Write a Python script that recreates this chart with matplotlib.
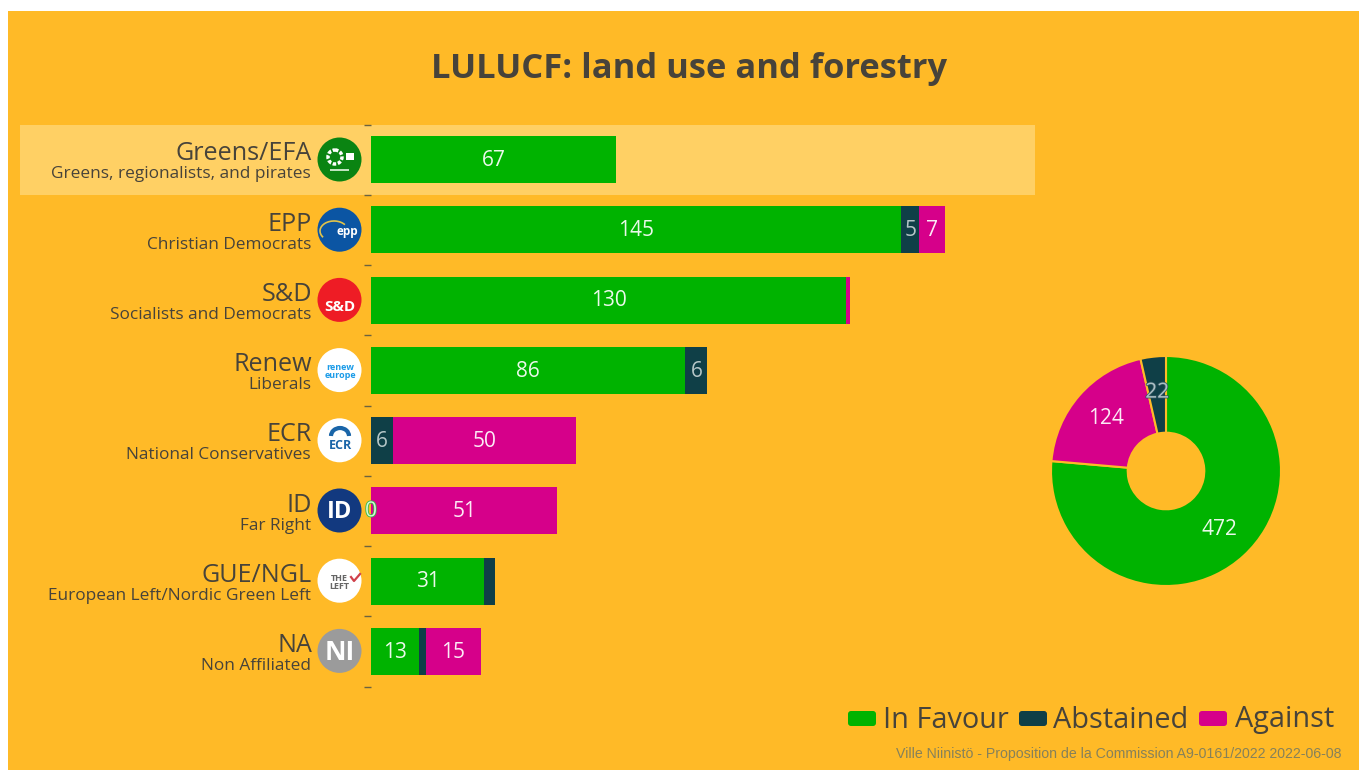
import matplotlib
matplotlib.use('Agg')
import numpy as np
import matplotlib.pyplot as plt
import matplotlib.patheffects as pe
from matplotlib.patches import Arc, Circle, FancyBboxPatch, Rectangle

W, H = 1359, 770
groups = ['Greens/EFA', 'EPP', 'S&D', 'Renew', 'ECR', 'ID', 'GUE/NGL', 'NA']
subtitles = ['Greens, regionalists, and pirates', 'Christian Democrats', 'Socialists and Democrats',
             'Liberals', 'National Conservatives', 'Far Right',
             'European Left/Nordic Green Left', 'Non Affiliated']
in_favour = [67, 145, 130, 86, 0, 0, 31, 13]
abstained = [0, 5, 0, 6, 6, 0, 3, 2]
against = [0, 7, 1, 0, 50, 51, 0, 15]
totals = [472, 124, 22]
legend_names = ['In Favour', 'Abstained', 'Against']
title = 'LULUCF: land use and forestry'
credit = 'Ville Niinistö - Proposition de la Commission A9-0161/2022 2022-06-08'
logo_colors = ['#0a8412', '#0b55a3', '#ee1c25', '#ffffff', '#ffffff', '#12397f', '#ffffff', '#9b9b9b']
logo_texts = ['', 'epp', 'S&D', 'renew\neurope', 'ECR', 'ID', 'THE\nLEFT', 'NI']
logo_text_colors = ['white', 'white', 'white', '#1a9be8', '#1a65a8', 'white', '#666666', 'white']

GREEN = '#00b300'
DARK = '#0f3f47'
PINK = '#d6008a'
BG = '#ffba27'
INK = '#47433a'

plt.rcParams['font.family'] = ['Open Sans', 'DejaVu Sans']
fig = plt.figure(figsize=(W / 100, H / 100), dpi=100, facecolor='white')


def box(x0, y0, x1, y1):
    return [x0 / W, 1 - y1 / H, (x1 - x0) / W, (y1 - y0) / H]


# overlay in pixel coords for background, logos, legend
bg = fig.add_axes([0, 0, 1, 1], zorder=0)
bg.set_xlim(0, W)
bg.set_ylim(H, 0)
bg.axis('off')
bg.add_patch(Rectangle((8, 11), W - 8, H - 11, fc=BG, ec='none'))
bg.add_patch(Rectangle((20, 125), 1015, 70, fc='#ffd064', ec='none'))
bg.text(689, 69, title, ha='center', va='center', fontsize=24.8, fontweight='bold', color=INK)

# bars
ax = fig.add_axes(box(371, 124.5, 1035, 686.5), zorder=1)
ax.patch.set_alpha(0)
y = np.arange(len(groups))
fav = np.array(in_favour)
abst = np.array(abstained)
aga = np.array(against)
ax.barh(y, fav, height=0.67, color=GREEN)
ax.barh(y, abst, left=fav, height=0.67, color=DARK)
ax.barh(y, aga, left=fav + abst, height=0.67, color=PINK)
ax.set_xlim(0, 181.6)
ax.set_ylim(len(groups) - 0.5, -0.5)
for s in ax.spines.values():
    s.set_visible(False)
ax.set_xticks([])
ax.set_yticks(np.arange(len(groups) + 1) - 0.5)
ax.set_yticklabels([])
ax.tick_params(axis='y', length=5, width=1, color='#6b6340', pad=0)

for i in range(len(groups)):
    left = 0
    for vals, col in zip((fav, abst, aga), ('#ffffff', '#c4d3d3', '#ffffff')):
        v = vals[i]
        if v >= 5:
            ax.text(left + v / 2, i + 0.01, str(v), ha='center', va='center', fontsize=15, color=col, alpha=0.92)
        left += v
zero = ax.text(0, 5, '0', ha='center', va='center', fontsize=15, color='#d5f7d5', clip_on=False, zorder=5)
zero.set_path_effects([pe.withStroke(linewidth=1.2, foreground='#35b94a')])

# group labels + logos
for i, name in enumerate(groups):
    cy = 160 + i * 70.2
    bg.text(312, cy - 6, name, ha='right', va='center', fontsize=18.1, color=INK)
    bg.text(311, cy + 14.5, subtitles[i], ha='right', va='center', fontsize=12.4, color=INK)
    bg.add_patch(Circle((339.5, cy - 0.5), 22, fc=logo_colors[i], ec='none'))
    size = {'S&D': 11, 'NI': 19, 'epp': 8.5, 'ECR': 9, 'ID': 17}.get(logo_texts[i], 6.5)
    dx = {'epp': 7, 'THE\nLEFT': -1}.get(logo_texts[i], 0)
    dy = {'S&D': 7, 'ECR': 5, 'epp': 1}.get(logo_texts[i], 1)
    bg.text(340 + dx, cy + dy, logo_texts[i], ha='center', va='center',
            fontsize=size, fontweight='bold', color=logo_text_colors[i], linespacing=0.9)
# logo details
bg.add_patch(Circle((335, 157), 7, fc='none', ec='white', lw=2.5, ls=(0, (1, 0.5))))
bg.add_patch(Rectangle((346, 153), 8, 7, fc='white', ec='none'))
bg.add_patch(Rectangle((330, 169), 19, 2, fc='#bfe3bf', ec='none'))
bg.add_patch(Arc((334, 231), 28, 20, theta1=150, theta2=330, ec='#e2c44a', lw=1.2))
bg.add_patch(Arc((340, 436), 18, 16, theta1=180, theta2=360, ec='#1a65a8', lw=3))
bg.plot([351, 354, 360], [577, 581, 574], color='#d0404a', lw=1.6)

# donut
pie_ax = fig.add_axes(box(1051, 356, 1281, 586), zorder=1)
wedges, texts, autotexts = pie_ax.pie(
    totals, colors=[GREEN, PINK, DARK], startangle=90, counterclock=False, radius=1,
    autopct=lambda p: str(int(round(p * sum(totals) / 100))), pctdistance=0.69,
    wedgeprops=dict(width=0.667, edgecolor=BG, linewidth=1.5, joinstyle='round'),
    textprops=dict(fontsize=15, color='white'))
for t in autotexts:
    t.set_alpha(0.92)
autotexts[2].set_color('#b5c8cc')
autotexts[2].set_path_effects([pe.withStroke(linewidth=1.2, foreground='#2f5560')])
pie_ax.set_xlim(-1, 1)
pie_ax.set_ylim(-1, 1)

# legend
handle_x = [848, 1019, 1199]
label_x = [883, 1053, 1235]
for hx, lx, name, col in zip(handle_x, label_x, legend_names, [GREEN, DARK, PINK]):
    bg.add_patch(FancyBboxPatch((hx + 3, 714), 22, 9, boxstyle='round,pad=3', fc=col, ec='none', zorder=2))
    bg.text(lx, 720, name, ha='left', va='center', fontsize=20.8, color=INK)

bg.text(1342, 754, credit, ha='right', va='center', fontsize=10.2, family='Liberation Sans', color='#86815a')

fig.savefig('out.png', dpi=100, facecolor=fig.get_facecolor())
